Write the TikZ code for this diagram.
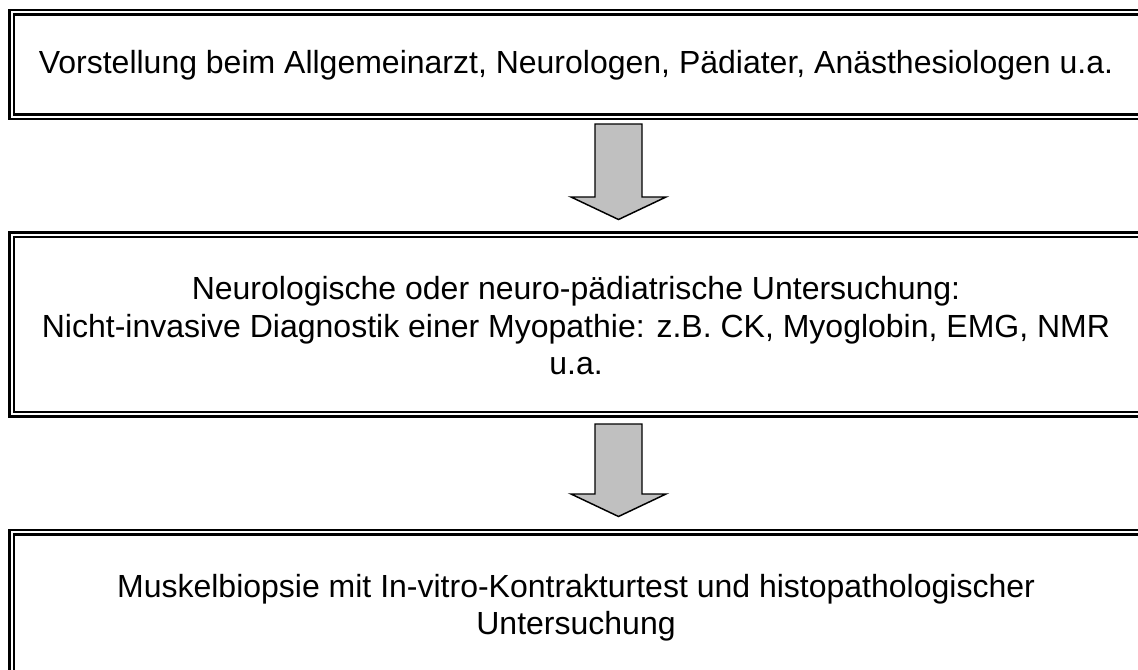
\documentclass[tikz,border=0pt]{standalone}
\usepackage{fontspec}
\setmainfont{Liberation Sans}
\usetikzlibrary{calc}
\definecolor{arrowgray}{RGB}{192,192,192}
\tikzset{
  box/.style={draw=black, double=white, line width=1.875pt, double distance=1.5pt,
    rectangle, outer sep=0pt, inner sep=0pt, minimum width=852.9pt},
  txt/.style={anchor=base, inner sep=0pt, font=\fontsize{24}{28}\selectfont},
  blockarrow/.style={draw=black, fill=arrowgray, line width=1.1pt, line join=miter}
}
\begin{document}
\begin{tikzpicture}[x=0.75pt, y=-0.75pt]
\useasboundingbox (0,0) rectangle (1138,670);
\clip (0,0) rectangle (1138,670);
\node[box, minimum height=78.4pt] (b1) at (580.4,64.5) {};
\node[box, minimum height=134.25pt] (b2) at (580.4,324.5) {};
\node[box, minimum height=118.5pt] (b3) at (580.4,611) {};
\node[txt] (t1) at (576,74) {Vorstellung beim Allgemeinarzt, Neurologen, Pädiater, Anästhesiologen u.a.};
\node[txt] (t2a) at (576,300) {Neurologische oder neuro-pädiatrische Untersuchung:};
\node[txt] (t2b) at (576,337) {Nicht-invasive Diagnostik einer Myopathie: z.B. CK, Myoglobin, EMG, NMR};
\node[txt] (t2c) at (576,374) {u.a.};
\node[txt] (t3a) at (576,597) {Muskelbiopsie mit In-vitro-Kontrakturtest und histopathologischer};
\node[txt] (t3b) at (576,634) {Untersuchung};
\draw[blockarrow] ($(b1.south)+(14.6,7.25)$) -- ++(47,0) -- ++(0,73) -- ++(24,0) -- ++(-47.5,22.5) -- ++(-47.5,-22.5) -- ++(24,0) -- cycle;
\draw[blockarrow] ($(b2.south)+(14.6,10)$) -- ++(47,0) -- ++(0,70) -- ++(24,0) -- ++(-47.5,22.5) -- ++(-47.5,-22.5) -- ++(24,0) -- cycle;
\end{tikzpicture}
\end{document}
